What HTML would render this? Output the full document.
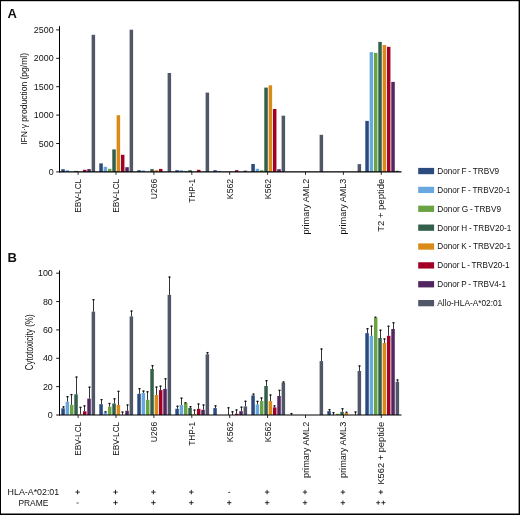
<!DOCTYPE html>
<html><head><meta charset="utf-8"><title>Figure</title>
<style>html,body{margin:0;padding:0;background:#fff;width:520px;height:515px;overflow:hidden}
svg{display:block;will-change:transform;font-family:"Liberation Sans",sans-serif}</style></head>
<body>
<svg width="520" height="515" viewBox="0 0 520 515" font-family='"Liberation Sans", sans-serif' fill="#111">
<rect x="0" y="0" width="520" height="515" fill="#fff"/>
<rect x="0" y="0" width="520" height="1.2" fill="#000"/>
<rect x="0" y="0" width="1" height="515" fill="#000"/>
<rect x="518.6" y="0" width="1.4" height="515" fill="#000"/>
<rect x="0" y="513.5" width="520" height="1.5" fill="#000"/>
<text x="7.6" y="17.9" font-size="13" font-weight="bold">A</text>
<text x="7.6" y="261.9" font-size="13" font-weight="bold">B</text>
<rect x="61.3" y="169.2" width="3.5" height="2.7" fill="#2b4a7e"/>
<rect x="65.63" y="170.2" width="3.5" height="1.7" fill="#68a8de"/>
<rect x="74.29" y="170.9" width="3.5" height="1" fill="#335f4b"/>
<rect x="82.95" y="169.8" width="3.5" height="2.1" fill="#a40026"/>
<rect x="87.28" y="169.1" width="3.5" height="2.8" fill="#522660"/>
<rect x="91.61" y="34.8" width="3.5" height="137.1" fill="#505868"/>
<rect x="99.3" y="163.4" width="3.5" height="8.5" fill="#2b4a7e"/>
<rect x="103.63" y="166.8" width="3.5" height="5.1" fill="#68a8de"/>
<rect x="107.96" y="168.8" width="3.5" height="3.1" fill="#6aa442"/>
<rect x="112.29" y="149.4" width="3.5" height="22.5" fill="#335f4b"/>
<rect x="116.62" y="115.2" width="3.5" height="56.7" fill="#da8a18"/>
<rect x="120.95" y="154.8" width="3.5" height="17.1" fill="#a40026"/>
<rect x="125.28" y="167.2" width="3.5" height="4.7" fill="#522660"/>
<rect x="129.61" y="29.7" width="3.5" height="142.2" fill="#505868"/>
<rect x="137.3" y="170.2" width="3.5" height="1.7" fill="#2b4a7e"/>
<rect x="141.63" y="170.4" width="3.5" height="1.5" fill="#68a8de"/>
<rect x="150.29" y="169.1" width="3.5" height="2.8" fill="#335f4b"/>
<rect x="154.62" y="170.2" width="3.5" height="1.7" fill="#da8a18"/>
<rect x="158.95" y="168.9" width="3.5" height="3" fill="#a40026"/>
<rect x="167.61" y="73" width="3.5" height="98.9" fill="#505868"/>
<rect x="175.3" y="170.2" width="3.5" height="1.7" fill="#2b4a7e"/>
<rect x="179.63" y="170.2" width="3.5" height="1.7" fill="#68a8de"/>
<rect x="183.96" y="170.9" width="3.5" height="1" fill="#6aa442"/>
<rect x="188.29" y="170.2" width="3.5" height="1.7" fill="#335f4b"/>
<rect x="196.95" y="169.8" width="3.5" height="2.1" fill="#a40026"/>
<rect x="205.61" y="92.6" width="3.5" height="79.3" fill="#505868"/>
<rect x="213.3" y="170.2" width="3.5" height="1.7" fill="#2b4a7e"/>
<rect x="217.63" y="170.9" width="3.5" height="1" fill="#68a8de"/>
<rect x="234.95" y="170.2" width="3.5" height="1.7" fill="#a40026"/>
<rect x="243.61" y="170.6" width="3.5" height="1.3" fill="#505868"/>
<rect x="251.3" y="164" width="3.5" height="7.9" fill="#2b4a7e"/>
<rect x="255.63" y="168.8" width="3.5" height="3.1" fill="#68a8de"/>
<rect x="259.96" y="170.2" width="3.5" height="1.7" fill="#6aa442"/>
<rect x="264.29" y="87.6" width="3.5" height="84.3" fill="#335f4b"/>
<rect x="268.62" y="85.3" width="3.5" height="86.6" fill="#da8a18"/>
<rect x="272.95" y="109" width="3.5" height="62.9" fill="#a40026"/>
<rect x="277.28" y="169.2" width="3.5" height="2.7" fill="#522660"/>
<rect x="281.61" y="115.7" width="3.5" height="56.2" fill="#505868"/>
<rect x="319.61" y="134.8" width="3.5" height="37.1" fill="#505868"/>
<rect x="357.61" y="164.1" width="3.5" height="7.8" fill="#505868"/>
<rect x="365.3" y="120.9" width="3.5" height="51" fill="#2b4a7e"/>
<rect x="369.63" y="52.1" width="3.5" height="119.8" fill="#68a8de"/>
<rect x="373.96" y="52.9" width="3.5" height="119" fill="#6aa442"/>
<rect x="378.29" y="41.9" width="3.5" height="130" fill="#335f4b"/>
<rect x="382.62" y="45" width="3.5" height="126.9" fill="#da8a18"/>
<rect x="386.95" y="46.8" width="3.5" height="125.1" fill="#a40026"/>
<rect x="391.28" y="81.9" width="3.5" height="90" fill="#522660"/>
<rect x="395.61" y="170.8" width="3.5" height="1.1" fill="#505868"/>
<line x1="59.5" y1="26.2" x2="59.5" y2="172.4" stroke="#000" stroke-width="1"/>
<line x1="59" y1="171.9" x2="401.5" y2="171.9" stroke="#000" stroke-width="1.1"/>
<line x1="56.2" y1="171.9" x2="59.5" y2="171.9" stroke="#000" stroke-width="0.9"/>
<text x="53.6" y="174.9" font-size="8.9" text-anchor="end">0</text>
<line x1="56.2" y1="143.5" x2="59.5" y2="143.5" stroke="#000" stroke-width="0.9"/>
<text x="53.6" y="146.5" font-size="8.9" text-anchor="end">500</text>
<line x1="56.2" y1="115.1" x2="59.5" y2="115.1" stroke="#000" stroke-width="0.9"/>
<text x="53.6" y="118.1" font-size="8.9" text-anchor="end">1000</text>
<line x1="56.2" y1="86.7" x2="59.5" y2="86.7" stroke="#000" stroke-width="0.9"/>
<text x="53.6" y="89.7" font-size="8.9" text-anchor="end">1500</text>
<line x1="56.2" y1="58.3" x2="59.5" y2="58.3" stroke="#000" stroke-width="0.9"/>
<text x="53.6" y="61.3" font-size="8.9" text-anchor="end">2000</text>
<line x1="56.2" y1="29.9" x2="59.5" y2="29.9" stroke="#000" stroke-width="0.9"/>
<text x="53.6" y="32.9" font-size="8.9" text-anchor="end">2500</text>
<line x1="78.1" y1="171.9" x2="78.1" y2="174.9" stroke="#000" stroke-width="0.8"/>
<text transform="translate(81.1,178.8) rotate(-90)" font-size="8.7" text-anchor="end" textLength="34" lengthAdjust="spacingAndGlyphs">EBV-LCL</text>
<line x1="116" y1="171.9" x2="116" y2="174.9" stroke="#000" stroke-width="0.8"/>
<text transform="translate(119,178.8) rotate(-90)" font-size="8.7" text-anchor="end" textLength="34" lengthAdjust="spacingAndGlyphs">EBV-LCL</text>
<line x1="153.9" y1="171.9" x2="153.9" y2="174.9" stroke="#000" stroke-width="0.8"/>
<text transform="translate(156.9,178.8) rotate(-90)" font-size="8.7" text-anchor="end" textLength="20.4" lengthAdjust="spacingAndGlyphs">U266</text>
<line x1="191.8" y1="171.9" x2="191.8" y2="174.9" stroke="#000" stroke-width="0.8"/>
<text transform="translate(194.8,178.8) rotate(-90)" font-size="8.7" text-anchor="end" textLength="24" lengthAdjust="spacingAndGlyphs">THP-1</text>
<line x1="229.7" y1="171.9" x2="229.7" y2="174.9" stroke="#000" stroke-width="0.8"/>
<text transform="translate(232.7,178.8) rotate(-90)" font-size="8.7" text-anchor="end" textLength="20.4" lengthAdjust="spacingAndGlyphs">K562</text>
<line x1="267.6" y1="171.9" x2="267.6" y2="174.9" stroke="#000" stroke-width="0.8"/>
<text transform="translate(270.6,178.8) rotate(-90)" font-size="8.7" text-anchor="end" textLength="20.4" lengthAdjust="spacingAndGlyphs">K562</text>
<line x1="305.5" y1="171.9" x2="305.5" y2="174.9" stroke="#000" stroke-width="0.8"/>
<text transform="translate(308.5,178.8) rotate(-90)" font-size="8.7" text-anchor="end" textLength="55.6" lengthAdjust="spacingAndGlyphs">primary AML2</text>
<line x1="343.4" y1="171.9" x2="343.4" y2="174.9" stroke="#000" stroke-width="0.8"/>
<text transform="translate(346.4,178.8) rotate(-90)" font-size="8.7" text-anchor="end" textLength="55.6" lengthAdjust="spacingAndGlyphs">primary AML3</text>
<line x1="381.3" y1="171.9" x2="381.3" y2="174.9" stroke="#000" stroke-width="0.8"/>
<text transform="translate(384.3,178.8) rotate(-90)" font-size="8.7" text-anchor="end" textLength="53" lengthAdjust="spacingAndGlyphs">T2 + peptide</text>
<text transform="translate(26.5,98.9) rotate(-90)" font-size="8.9" text-anchor="middle" textLength="91.9" lengthAdjust="spacingAndGlyphs">IFN·γ production (pg/ml)</text>
<rect x="61.3" y="408.3" width="3.5" height="6.7" fill="#2b4a7e"/>
<rect x="65.63" y="401.8" width="3.5" height="13.2" fill="#68a8de"/>
<rect x="69.96" y="404.8" width="3.5" height="10.2" fill="#6aa442"/>
<rect x="74.29" y="394.3" width="3.5" height="20.7" fill="#335f4b"/>
<rect x="78.62" y="414.2" width="3.5" height="0.8" fill="#da8a18"/>
<rect x="82.95" y="411.3" width="3.5" height="3.7" fill="#a40026"/>
<rect x="87.28" y="398.6" width="3.5" height="16.4" fill="#522660"/>
<rect x="91.61" y="311.6" width="3.5" height="103.4" fill="#505868"/>
<rect x="99.3" y="404.2" width="3.5" height="10.8" fill="#2b4a7e"/>
<rect x="103.63" y="412.4" width="3.5" height="2.6" fill="#68a8de"/>
<rect x="107.96" y="406.7" width="3.5" height="8.3" fill="#6aa442"/>
<rect x="112.29" y="403.5" width="3.5" height="11.5" fill="#335f4b"/>
<rect x="116.62" y="405" width="3.5" height="10" fill="#da8a18"/>
<rect x="125.28" y="410.8" width="3.5" height="4.2" fill="#522660"/>
<rect x="129.61" y="316.4" width="3.5" height="98.6" fill="#505868"/>
<rect x="137.3" y="393.8" width="3.5" height="21.2" fill="#2b4a7e"/>
<rect x="141.63" y="392.9" width="3.5" height="22.1" fill="#68a8de"/>
<rect x="145.96" y="399.9" width="3.5" height="15.1" fill="#6aa442"/>
<rect x="150.29" y="369" width="3.5" height="46" fill="#335f4b"/>
<rect x="154.62" y="395" width="3.5" height="20" fill="#da8a18"/>
<rect x="158.95" y="390.1" width="3.5" height="24.9" fill="#a40026"/>
<rect x="163.28" y="388.9" width="3.5" height="26.1" fill="#522660"/>
<rect x="167.61" y="294.9" width="3.5" height="120.1" fill="#505868"/>
<rect x="175.3" y="408.8" width="3.5" height="6.2" fill="#2b4a7e"/>
<rect x="179.63" y="405" width="3.5" height="10" fill="#68a8de"/>
<rect x="183.96" y="403.1" width="3.5" height="11.9" fill="#6aa442"/>
<rect x="188.29" y="407.9" width="3.5" height="7.1" fill="#335f4b"/>
<rect x="192.62" y="414.2" width="3.5" height="0.8" fill="#da8a18"/>
<rect x="196.95" y="408.8" width="3.5" height="6.2" fill="#a40026"/>
<rect x="201.28" y="409.8" width="3.5" height="5.2" fill="#522660"/>
<rect x="205.61" y="354.3" width="3.5" height="60.7" fill="#505868"/>
<rect x="213.3" y="408.1" width="3.5" height="6.9" fill="#2b4a7e"/>
<rect x="234.95" y="413.8" width="3.5" height="1.2" fill="#a40026"/>
<rect x="239.28" y="411.2" width="3.5" height="3.8" fill="#522660"/>
<rect x="243.61" y="406.4" width="3.5" height="8.6" fill="#505868"/>
<rect x="251.3" y="395.4" width="3.5" height="19.6" fill="#2b4a7e"/>
<rect x="255.63" y="404.5" width="3.5" height="10.5" fill="#68a8de"/>
<rect x="259.96" y="401.1" width="3.5" height="13.9" fill="#6aa442"/>
<rect x="264.29" y="386" width="3.5" height="29" fill="#335f4b"/>
<rect x="268.62" y="401.1" width="3.5" height="13.9" fill="#da8a18"/>
<rect x="272.95" y="407.4" width="3.5" height="7.6" fill="#a40026"/>
<rect x="277.28" y="396" width="3.5" height="19" fill="#522660"/>
<rect x="281.61" y="382.6" width="3.5" height="32.4" fill="#505868"/>
<rect x="319.61" y="361.1" width="3.5" height="53.9" fill="#505868"/>
<rect x="327.3" y="411.1" width="3.5" height="3.9" fill="#2b4a7e"/>
<rect x="335.96" y="413.8" width="3.5" height="1.2" fill="#6aa442"/>
<rect x="340.29" y="411.8" width="3.5" height="3.2" fill="#335f4b"/>
<rect x="344.62" y="413" width="3.5" height="2" fill="#da8a18"/>
<rect x="357.61" y="371" width="3.5" height="44" fill="#505868"/>
<rect x="365.3" y="333.1" width="3.5" height="81.9" fill="#2b4a7e"/>
<rect x="369.63" y="335.8" width="3.5" height="79.2" fill="#68a8de"/>
<rect x="373.96" y="317.9" width="3.5" height="97.1" fill="#6aa442"/>
<rect x="378.29" y="338" width="3.5" height="77" fill="#335f4b"/>
<rect x="382.62" y="343" width="3.5" height="72" fill="#da8a18"/>
<rect x="386.95" y="335.8" width="3.5" height="79.2" fill="#a40026"/>
<rect x="391.28" y="329" width="3.5" height="86" fill="#522660"/>
<rect x="395.61" y="381.8" width="3.5" height="33.2" fill="#505868"/>
<line x1="63.5" y1="408.3" x2="63.5" y2="406.4" stroke="#333" stroke-width="1"/>
<line x1="62.45" y1="406.9" x2="64.55" y2="406.9" stroke="#111" stroke-width="1.3"/>
<line x1="67.5" y1="401.8" x2="67.5" y2="396.2" stroke="#333" stroke-width="1"/>
<line x1="66.45" y1="396.7" x2="68.55" y2="396.7" stroke="#111" stroke-width="1.3"/>
<line x1="71.5" y1="404.8" x2="71.5" y2="394.1" stroke="#333" stroke-width="1"/>
<line x1="70.45" y1="394.6" x2="72.55" y2="394.6" stroke="#111" stroke-width="1.3"/>
<line x1="76.5" y1="394.3" x2="76.5" y2="376.6" stroke="#333" stroke-width="1"/>
<line x1="75.45" y1="377.1" x2="77.55" y2="377.1" stroke="#111" stroke-width="1.3"/>
<line x1="80.5" y1="414.2" x2="80.5" y2="406.9" stroke="#333" stroke-width="1"/>
<line x1="79.45" y1="407.4" x2="81.55" y2="407.4" stroke="#111" stroke-width="1.3"/>
<line x1="84.5" y1="411.3" x2="84.5" y2="405.4" stroke="#333" stroke-width="1"/>
<line x1="83.45" y1="405.9" x2="85.55" y2="405.9" stroke="#111" stroke-width="1.3"/>
<line x1="89.5" y1="398.6" x2="89.5" y2="386.7" stroke="#333" stroke-width="1"/>
<line x1="88.45" y1="387.2" x2="90.55" y2="387.2" stroke="#111" stroke-width="1.3"/>
<line x1="93.5" y1="311.6" x2="93.5" y2="299.2" stroke="#333" stroke-width="1"/>
<line x1="92.45" y1="299.7" x2="94.55" y2="299.7" stroke="#111" stroke-width="1.3"/>
<line x1="101.5" y1="404.2" x2="101.5" y2="399.1" stroke="#333" stroke-width="1"/>
<line x1="100.45" y1="399.6" x2="102.55" y2="399.6" stroke="#111" stroke-width="1.3"/>
<line x1="105.5" y1="412.4" x2="105.5" y2="411.3" stroke="#333" stroke-width="1"/>
<line x1="104.45" y1="411.8" x2="106.55" y2="411.8" stroke="#111" stroke-width="1.3"/>
<line x1="109.5" y1="406.7" x2="109.5" y2="403" stroke="#333" stroke-width="1"/>
<line x1="108.45" y1="403.5" x2="110.55" y2="403.5" stroke="#111" stroke-width="1.3"/>
<line x1="114.5" y1="403.5" x2="114.5" y2="398.3" stroke="#333" stroke-width="1"/>
<line x1="113.45" y1="398.8" x2="115.55" y2="398.8" stroke="#111" stroke-width="1.3"/>
<line x1="118.5" y1="405" x2="118.5" y2="390.9" stroke="#333" stroke-width="1"/>
<line x1="117.45" y1="391.4" x2="119.55" y2="391.4" stroke="#111" stroke-width="1.3"/>
<line x1="122.5" y1="415" x2="122.5" y2="411.6" stroke="#333" stroke-width="1"/>
<line x1="121.45" y1="412.1" x2="123.55" y2="412.1" stroke="#111" stroke-width="1.3"/>
<line x1="127.5" y1="410.8" x2="127.5" y2="404.5" stroke="#333" stroke-width="1"/>
<line x1="126.45" y1="405" x2="128.55" y2="405" stroke="#111" stroke-width="1.3"/>
<line x1="131.5" y1="316.4" x2="131.5" y2="310.6" stroke="#333" stroke-width="1"/>
<line x1="130.45" y1="311.1" x2="132.55" y2="311.1" stroke="#111" stroke-width="1.3"/>
<line x1="139.5" y1="393.8" x2="139.5" y2="388.2" stroke="#333" stroke-width="1"/>
<line x1="138.45" y1="388.7" x2="140.55" y2="388.7" stroke="#111" stroke-width="1.3"/>
<line x1="143.5" y1="392.9" x2="143.5" y2="390.6" stroke="#333" stroke-width="1"/>
<line x1="142.45" y1="391.1" x2="144.55" y2="391.1" stroke="#111" stroke-width="1.3"/>
<line x1="147.5" y1="399.9" x2="147.5" y2="391.3" stroke="#333" stroke-width="1"/>
<line x1="146.45" y1="391.8" x2="148.55" y2="391.8" stroke="#111" stroke-width="1.3"/>
<line x1="152.5" y1="369" x2="152.5" y2="365.2" stroke="#333" stroke-width="1"/>
<line x1="151.45" y1="365.7" x2="153.55" y2="365.7" stroke="#111" stroke-width="1.3"/>
<line x1="156.5" y1="395" x2="156.5" y2="386.6" stroke="#333" stroke-width="1"/>
<line x1="155.45" y1="387.1" x2="157.55" y2="387.1" stroke="#111" stroke-width="1.3"/>
<line x1="160.5" y1="390.1" x2="160.5" y2="385.7" stroke="#333" stroke-width="1"/>
<line x1="159.45" y1="386.2" x2="161.55" y2="386.2" stroke="#111" stroke-width="1.3"/>
<line x1="165.5" y1="388.9" x2="165.5" y2="378.3" stroke="#333" stroke-width="1"/>
<line x1="164.45" y1="378.8" x2="166.55" y2="378.8" stroke="#111" stroke-width="1.3"/>
<line x1="169.5" y1="294.9" x2="169.5" y2="276.6" stroke="#333" stroke-width="1"/>
<line x1="168.45" y1="277.1" x2="170.55" y2="277.1" stroke="#111" stroke-width="1.3"/>
<line x1="177.5" y1="408.8" x2="177.5" y2="405.8" stroke="#333" stroke-width="1"/>
<line x1="176.45" y1="406.3" x2="178.55" y2="406.3" stroke="#111" stroke-width="1.3"/>
<line x1="181.5" y1="405" x2="181.5" y2="397.7" stroke="#333" stroke-width="1"/>
<line x1="180.45" y1="398.2" x2="182.55" y2="398.2" stroke="#111" stroke-width="1.3"/>
<line x1="185.5" y1="403.1" x2="185.5" y2="402.3" stroke="#333" stroke-width="1"/>
<line x1="184.45" y1="402.8" x2="186.55" y2="402.8" stroke="#111" stroke-width="1.3"/>
<line x1="190.5" y1="407.9" x2="190.5" y2="406.2" stroke="#333" stroke-width="1"/>
<line x1="189.45" y1="406.7" x2="191.55" y2="406.7" stroke="#111" stroke-width="1.3"/>
<line x1="194.5" y1="414.2" x2="194.5" y2="409.6" stroke="#333" stroke-width="1"/>
<line x1="193.45" y1="410.1" x2="195.55" y2="410.1" stroke="#111" stroke-width="1.3"/>
<line x1="198.5" y1="408.8" x2="198.5" y2="403.5" stroke="#333" stroke-width="1"/>
<line x1="197.45" y1="404" x2="199.55" y2="404" stroke="#111" stroke-width="1.3"/>
<line x1="203.5" y1="409.8" x2="203.5" y2="404.5" stroke="#333" stroke-width="1"/>
<line x1="202.45" y1="405" x2="204.55" y2="405" stroke="#111" stroke-width="1.3"/>
<line x1="207.5" y1="354.3" x2="207.5" y2="352.1" stroke="#333" stroke-width="1"/>
<line x1="206.45" y1="352.6" x2="208.55" y2="352.6" stroke="#111" stroke-width="1.3"/>
<line x1="215.5" y1="408.1" x2="215.5" y2="405.4" stroke="#333" stroke-width="1"/>
<line x1="214.45" y1="405.9" x2="216.55" y2="405.9" stroke="#111" stroke-width="1.3"/>
<line x1="228.5" y1="415" x2="228.5" y2="407.3" stroke="#333" stroke-width="1"/>
<line x1="227.45" y1="407.8" x2="229.55" y2="407.8" stroke="#111" stroke-width="1.3"/>
<line x1="232.5" y1="415" x2="232.5" y2="411.3" stroke="#333" stroke-width="1"/>
<line x1="231.45" y1="411.8" x2="233.55" y2="411.8" stroke="#111" stroke-width="1.3"/>
<line x1="236.5" y1="413.8" x2="236.5" y2="409.5" stroke="#333" stroke-width="1"/>
<line x1="235.45" y1="410" x2="237.55" y2="410" stroke="#111" stroke-width="1.3"/>
<line x1="241.5" y1="411.2" x2="241.5" y2="406.7" stroke="#333" stroke-width="1"/>
<line x1="240.45" y1="407.2" x2="242.55" y2="407.2" stroke="#111" stroke-width="1.3"/>
<line x1="245.5" y1="406.4" x2="245.5" y2="400.8" stroke="#333" stroke-width="1"/>
<line x1="244.45" y1="401.3" x2="246.55" y2="401.3" stroke="#111" stroke-width="1.3"/>
<line x1="253.5" y1="395.4" x2="253.5" y2="393.6" stroke="#333" stroke-width="1"/>
<line x1="252.45" y1="394.1" x2="254.55" y2="394.1" stroke="#111" stroke-width="1.3"/>
<line x1="257.5" y1="404.5" x2="257.5" y2="400.9" stroke="#333" stroke-width="1"/>
<line x1="256.45" y1="401.4" x2="258.55" y2="401.4" stroke="#111" stroke-width="1.3"/>
<line x1="261.5" y1="401.1" x2="261.5" y2="397.5" stroke="#333" stroke-width="1"/>
<line x1="260.45" y1="398" x2="262.55" y2="398" stroke="#111" stroke-width="1.3"/>
<line x1="266.5" y1="386" x2="266.5" y2="380.2" stroke="#333" stroke-width="1"/>
<line x1="265.45" y1="380.7" x2="267.55" y2="380.7" stroke="#111" stroke-width="1.3"/>
<line x1="270.5" y1="401.1" x2="270.5" y2="394.5" stroke="#333" stroke-width="1"/>
<line x1="269.45" y1="395" x2="271.55" y2="395" stroke="#111" stroke-width="1.3"/>
<line x1="274.5" y1="407.4" x2="274.5" y2="405.4" stroke="#333" stroke-width="1"/>
<line x1="273.45" y1="405.9" x2="275.55" y2="405.9" stroke="#111" stroke-width="1.3"/>
<line x1="279.5" y1="396" x2="279.5" y2="389.9" stroke="#333" stroke-width="1"/>
<line x1="278.45" y1="390.4" x2="280.55" y2="390.4" stroke="#111" stroke-width="1.3"/>
<line x1="283.5" y1="382.6" x2="283.5" y2="381.5" stroke="#333" stroke-width="1"/>
<line x1="282.45" y1="382" x2="284.55" y2="382" stroke="#111" stroke-width="1.3"/>
<line x1="291.5" y1="415" x2="291.5" y2="413.1" stroke="#333" stroke-width="1"/>
<line x1="290.45" y1="413.6" x2="292.55" y2="413.6" stroke="#111" stroke-width="1.3"/>
<line x1="321.5" y1="361.1" x2="321.5" y2="348.5" stroke="#333" stroke-width="1"/>
<line x1="320.45" y1="349" x2="322.55" y2="349" stroke="#111" stroke-width="1.3"/>
<line x1="329.5" y1="411.1" x2="329.5" y2="409.1" stroke="#333" stroke-width="1"/>
<line x1="328.45" y1="409.6" x2="330.55" y2="409.6" stroke="#111" stroke-width="1.3"/>
<line x1="333.5" y1="415" x2="333.5" y2="412.2" stroke="#333" stroke-width="1"/>
<line x1="332.45" y1="412.7" x2="334.55" y2="412.7" stroke="#111" stroke-width="1.3"/>
<line x1="342.5" y1="411.8" x2="342.5" y2="408.3" stroke="#333" stroke-width="1"/>
<line x1="341.45" y1="408.8" x2="343.55" y2="408.8" stroke="#111" stroke-width="1.3"/>
<line x1="346.5" y1="413" x2="346.5" y2="411.8" stroke="#333" stroke-width="1"/>
<line x1="345.45" y1="412.3" x2="347.55" y2="412.3" stroke="#111" stroke-width="1.3"/>
<line x1="355.5" y1="415" x2="355.5" y2="411.5" stroke="#333" stroke-width="1"/>
<line x1="354.45" y1="412" x2="356.55" y2="412" stroke="#111" stroke-width="1.3"/>
<line x1="359.5" y1="371" x2="359.5" y2="365.5" stroke="#333" stroke-width="1"/>
<line x1="358.45" y1="366" x2="360.55" y2="366" stroke="#111" stroke-width="1.3"/>
<line x1="367.5" y1="333.1" x2="367.5" y2="328.2" stroke="#333" stroke-width="1"/>
<line x1="366.45" y1="328.7" x2="368.55" y2="328.7" stroke="#111" stroke-width="1.3"/>
<line x1="371.5" y1="335.8" x2="371.5" y2="325.7" stroke="#333" stroke-width="1"/>
<line x1="370.45" y1="326.2" x2="372.55" y2="326.2" stroke="#111" stroke-width="1.3"/>
<line x1="375.5" y1="317.9" x2="375.5" y2="316.8" stroke="#333" stroke-width="1"/>
<line x1="374.45" y1="317.3" x2="376.55" y2="317.3" stroke="#111" stroke-width="1.3"/>
<line x1="380.5" y1="338" x2="380.5" y2="329.7" stroke="#333" stroke-width="1"/>
<line x1="379.45" y1="330.2" x2="381.55" y2="330.2" stroke="#111" stroke-width="1.3"/>
<line x1="384.5" y1="343" x2="384.5" y2="338.5" stroke="#333" stroke-width="1"/>
<line x1="383.45" y1="339" x2="385.55" y2="339" stroke="#111" stroke-width="1.3"/>
<line x1="388.5" y1="335.8" x2="388.5" y2="325.8" stroke="#333" stroke-width="1"/>
<line x1="387.45" y1="326.3" x2="389.55" y2="326.3" stroke="#111" stroke-width="1.3"/>
<line x1="393.5" y1="329" x2="393.5" y2="322.3" stroke="#333" stroke-width="1"/>
<line x1="392.45" y1="322.8" x2="394.55" y2="322.8" stroke="#111" stroke-width="1.3"/>
<line x1="397.5" y1="381.8" x2="397.5" y2="379.5" stroke="#333" stroke-width="1"/>
<line x1="396.45" y1="380" x2="398.55" y2="380" stroke="#111" stroke-width="1.3"/>
<line x1="59.5" y1="270.4" x2="59.5" y2="415.5" stroke="#000" stroke-width="1"/>
<line x1="59" y1="415" x2="401.5" y2="415" stroke="#000" stroke-width="1.1"/>
<line x1="56.2" y1="415" x2="59.5" y2="415" stroke="#000" stroke-width="0.9"/>
<text x="52.8" y="418" font-size="8.9" text-anchor="end">0</text>
<line x1="56.2" y1="386.64" x2="59.5" y2="386.64" stroke="#000" stroke-width="0.9"/>
<text x="52.8" y="389.64" font-size="8.9" text-anchor="end">20</text>
<line x1="56.2" y1="358.28" x2="59.5" y2="358.28" stroke="#000" stroke-width="0.9"/>
<text x="52.8" y="361.28" font-size="8.9" text-anchor="end">40</text>
<line x1="56.2" y1="329.92" x2="59.5" y2="329.92" stroke="#000" stroke-width="0.9"/>
<text x="52.8" y="332.92" font-size="8.9" text-anchor="end">60</text>
<line x1="56.2" y1="301.56" x2="59.5" y2="301.56" stroke="#000" stroke-width="0.9"/>
<text x="52.8" y="304.56" font-size="8.9" text-anchor="end">80</text>
<line x1="56.2" y1="273.2" x2="59.5" y2="273.2" stroke="#000" stroke-width="0.9"/>
<text x="52.8" y="276.2" font-size="8.9" text-anchor="end">100</text>
<line x1="78.1" y1="415" x2="78.1" y2="418" stroke="#000" stroke-width="0.8"/>
<text transform="translate(81.1,421.8) rotate(-90)" font-size="8.7" text-anchor="end" textLength="34" lengthAdjust="spacingAndGlyphs">EBV-LCL</text>
<line x1="116" y1="415" x2="116" y2="418" stroke="#000" stroke-width="0.8"/>
<text transform="translate(119,421.8) rotate(-90)" font-size="8.7" text-anchor="end" textLength="34" lengthAdjust="spacingAndGlyphs">EBV-LCL</text>
<line x1="153.9" y1="415" x2="153.9" y2="418" stroke="#000" stroke-width="0.8"/>
<text transform="translate(156.9,421.8) rotate(-90)" font-size="8.7" text-anchor="end" textLength="20.4" lengthAdjust="spacingAndGlyphs">U266</text>
<line x1="191.8" y1="415" x2="191.8" y2="418" stroke="#000" stroke-width="0.8"/>
<text transform="translate(194.8,421.8) rotate(-90)" font-size="8.7" text-anchor="end" textLength="24" lengthAdjust="spacingAndGlyphs">THP-1</text>
<line x1="229.7" y1="415" x2="229.7" y2="418" stroke="#000" stroke-width="0.8"/>
<text transform="translate(232.7,421.8) rotate(-90)" font-size="8.7" text-anchor="end" textLength="20.4" lengthAdjust="spacingAndGlyphs">K562</text>
<line x1="267.6" y1="415" x2="267.6" y2="418" stroke="#000" stroke-width="0.8"/>
<text transform="translate(270.6,421.8) rotate(-90)" font-size="8.7" text-anchor="end" textLength="20.4" lengthAdjust="spacingAndGlyphs">K562</text>
<line x1="305.5" y1="415" x2="305.5" y2="418" stroke="#000" stroke-width="0.8"/>
<text transform="translate(308.5,421.8) rotate(-90)" font-size="8.7" text-anchor="end" textLength="56.2" lengthAdjust="spacingAndGlyphs">primary AML2</text>
<line x1="343.4" y1="415" x2="343.4" y2="418" stroke="#000" stroke-width="0.8"/>
<text transform="translate(346.4,421.8) rotate(-90)" font-size="8.7" text-anchor="end" textLength="56.2" lengthAdjust="spacingAndGlyphs">primary AML3</text>
<line x1="381.3" y1="415" x2="381.3" y2="418" stroke="#000" stroke-width="0.8"/>
<text transform="translate(384.3,421.8) rotate(-90)" font-size="8.7" text-anchor="end" textLength="62.8" lengthAdjust="spacingAndGlyphs">K562 + peptide</text>
<text transform="translate(32.6,342.3) rotate(-90)" font-size="10.2" text-anchor="middle" textLength="55.9" lengthAdjust="spacingAndGlyphs">Cytotoxicity (%)</text>
<rect x="418.2" y="167.9" width="15.9" height="6.3" fill="#2b4a7e"/>
<text x="437.3" y="174" font-size="8.8" word-spacing="-0.5" textLength="61.9" lengthAdjust="spacingAndGlyphs">Donor F - TRBV9</text>
<rect x="418.2" y="186.77" width="15.9" height="6.3" fill="#68a8de"/>
<text x="437.3" y="192.87" font-size="8.8" word-spacing="-0.5" textLength="73.1" lengthAdjust="spacingAndGlyphs">Donor F - TRBV20-1</text>
<rect x="418.2" y="205.64" width="15.9" height="6.3" fill="#6aa442"/>
<text x="437.3" y="211.74" font-size="8.8" word-spacing="-0.5" textLength="63.7" lengthAdjust="spacingAndGlyphs">Donor G - TRBV9</text>
<rect x="418.2" y="224.51" width="15.9" height="6.3" fill="#335f4b"/>
<text x="437.3" y="230.61" font-size="8.8" word-spacing="-0.5" textLength="74" lengthAdjust="spacingAndGlyphs">Donor H - TRBV20-1</text>
<rect x="418.2" y="243.38" width="15.9" height="6.3" fill="#da8a18"/>
<text x="437.3" y="249.48" font-size="8.8" word-spacing="-0.5" textLength="73.7" lengthAdjust="spacingAndGlyphs">Donor K - TRBV20-1</text>
<rect x="418.2" y="262.25" width="15.9" height="6.3" fill="#a40026"/>
<text x="437.3" y="268.35" font-size="8.8" word-spacing="-0.5" textLength="72.3" lengthAdjust="spacingAndGlyphs">Donor L - TRBV20-1</text>
<rect x="418.2" y="281.12" width="15.9" height="6.3" fill="#522660"/>
<text x="437.3" y="287.22" font-size="8.8" word-spacing="-0.5" textLength="68.8" lengthAdjust="spacingAndGlyphs">Donor P - TRBV4-1</text>
<rect x="418.2" y="299.99" width="15.9" height="6.3" fill="#505868"/>
<text x="437.3" y="306.09" font-size="8.8" word-spacing="-0.5" textLength="64.9" lengthAdjust="spacingAndGlyphs">Allo-HLA-A*02:01</text>
<text x="33.4" y="495.1" font-size="9.5" text-anchor="middle" textLength="51.6" lengthAdjust="spacingAndGlyphs">HLA-A*02:01</text>
<text x="33.4" y="505.8" font-size="9.5" text-anchor="middle" textLength="30" lengthAdjust="spacingAndGlyphs">PRAME</text>
<path d="M75.4 492.1h4.4M77.6 489.9v4.4" stroke="#222" stroke-width="0.95" fill="none"/>
<path d="M76.6 503h2" stroke="#333" stroke-width="0.9" fill="none"/>
<path d="M113.3 492.1h4.4M115.5 489.9v4.4" stroke="#222" stroke-width="0.95" fill="none"/>
<path d="M113.3 502.7h4.4M115.5 500.5v4.4" stroke="#222" stroke-width="0.95" fill="none"/>
<path d="M151.2 492.1h4.4M153.4 489.9v4.4" stroke="#222" stroke-width="0.95" fill="none"/>
<path d="M151.2 502.7h4.4M153.4 500.5v4.4" stroke="#222" stroke-width="0.95" fill="none"/>
<path d="M189.1 492.1h4.4M191.3 489.9v4.4" stroke="#222" stroke-width="0.95" fill="none"/>
<path d="M189.1 502.7h4.4M191.3 500.5v4.4" stroke="#222" stroke-width="0.95" fill="none"/>
<path d="M228.2 492.4h2" stroke="#333" stroke-width="0.9" fill="none"/>
<path d="M227 502.7h4.4M229.2 500.5v4.4" stroke="#222" stroke-width="0.95" fill="none"/>
<path d="M264.9 492.1h4.4M267.1 489.9v4.4" stroke="#222" stroke-width="0.95" fill="none"/>
<path d="M264.9 502.7h4.4M267.1 500.5v4.4" stroke="#222" stroke-width="0.95" fill="none"/>
<path d="M302.8 492.1h4.4M305 489.9v4.4" stroke="#222" stroke-width="0.95" fill="none"/>
<path d="M302.8 502.7h4.4M305 500.5v4.4" stroke="#222" stroke-width="0.95" fill="none"/>
<path d="M340.7 492.1h4.4M342.9 489.9v4.4" stroke="#222" stroke-width="0.95" fill="none"/>
<path d="M340.7 502.7h4.4M342.9 500.5v4.4" stroke="#222" stroke-width="0.95" fill="none"/>
<path d="M378.6 492.1h4.4M380.8 489.9v4.4" stroke="#222" stroke-width="0.95" fill="none"/>
<path d="M376.2 502.7h4M378.2 500.7v4" stroke="#222" stroke-width="0.9" fill="none"/>
<path d="M381.4 502.7h4M383.4 500.7v4" stroke="#222" stroke-width="0.9" fill="none"/>
</svg>
</body></html>
